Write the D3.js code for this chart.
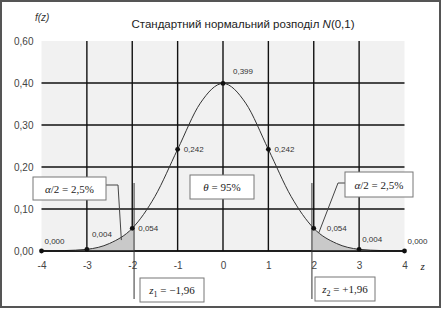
<!DOCTYPE html>
<html>
<head>
<meta charset="utf-8">
<script src="https://cdn.jsdelivr.net/npm/d3@7"></script>
<style>
  body { margin: 0; background: #fff; }
  svg { display: block; font-family: 'Liberation Sans', Arial, sans-serif; }
  .grid line { stroke: #111; stroke-width: 1.4; }
  .tick-label { font-size: 10px; fill: #444; }
  .pt-label { font-size: 8px; fill: #333; }
  .note { font-family: 'Liberation Serif', 'Times New Roman', serif; font-size: 11px; fill: #222; }
  .box { fill: #fff; stroke: #777; stroke-width: 1; }
</style>
</head>
<body>
<div id="chart"></div>
<script>
// Values
var zTicks = [-4, -3, -2, -1, 0, 1, 2, 3, 4];
var yTicks = [0, 0.1, 0.2, 0.3, 0.4, 0.5];
var yTickLabels = ['0,00', '0,10', '0,20', '0,30', '0,40', '0,60'];

var markZ = [-4, -3, -2, -1, 0, 1, 2, 3, 4];
var markF = [0.000, 0.004, 0.054, 0.242, 0.399, 0.242, 0.054, 0.004, 0.000];
var markLabels = ['0,000', '0,004', '0,054', '0,242', '0,399', '0,242', '0,054', '0,004', '0,000'];

var curveZ = [-4, -3.5, -3, -2.5, -2, -1.5, -1, -0.5, 0, 0.5, 1, 1.5, 2, 2.5, 3, 3.5, 4];
var curveF = [0.000, 0.001, 0.004, 0.018, 0.054, 0.130, 0.242, 0.352, 0.399,
              0.352, 0.242, 0.130, 0.054, 0.018, 0.004, 0.001, 0.000];

var critZ = [-1.96, 1.96];

var width = 443, height = 311;
var margin = {top: 41, right: 38.5, bottom: 60, left: 41.5};
var plotW = width - margin.left - margin.right;
var plotH = height - margin.top - margin.bottom;

var svg = d3.select('#chart').append('svg')
    .attr('width', width)
    .attr('height', height);

// outer frame
svg.append('rect')
    .attr('x', 1).attr('y', 1)
    .attr('width', 439).attr('height', 306)
    .attr('fill', '#fff')
    .attr('stroke', '#555')
    .attr('stroke-width', 2);

var x = d3.scaleLinear().domain([-4, 4]).range([margin.left, margin.left + plotW]);
var y = d3.scaleLinear().domain([0, 0.5]).range([margin.top + plotH, margin.top]);

// plot background
svg.append('rect')
    .attr('x', x(-4)).attr('y', y(0.5))
    .attr('width', x(4) - x(-4)).attr('height', y(0) - y(0.5))
    .attr('fill', '#f1f1f1');

// grid
var grid = svg.append('g').attr('class', 'grid');
grid.selectAll('line.v')
    .data(zTicks.filter(function(d) { return d > -4 && d < 4; }))
  .enter().append('line')
    .attr('x1', function(d) { return x(d); })
    .attr('x2', function(d) { return x(d); })
    .attr('y1', y(0.5)).attr('y2', y(0));
grid.selectAll('line.h')
    .data(yTicks.filter(function(d) { return d < 0.5; }))
  .enter().append('line')
    .attr('x1', x(-4)).attr('x2', x(4))
    .attr('y1', function(d) { return y(d); })
    .attr('y2', function(d) { return y(d); });

// shaded tails
var pts = curveZ.map(function(z, i) { return {z: z, f: curveF[i]}; });
var area = d3.area()
    .x(function(d) { return x(d.z); })
    .y0(y(0))
    .y1(function(d) { return y(d.f); })
    .curve(d3.curveMonotoneX);

var defs = svg.append('defs');
defs.append('clipPath').attr('id', 'tailL').append('rect')
    .attr('x', x(-4)).attr('y', y(0.5))
    .attr('width', x(critZ[0]) - x(-4)).attr('height', plotH);
defs.append('clipPath').attr('id', 'tailR').append('rect')
    .attr('x', x(critZ[1])).attr('y', y(0.5))
    .attr('width', x(4) - x(critZ[1])).attr('height', plotH);

svg.append('path').attr('d', area(pts))
    .attr('fill', '#c9c9c9').attr('clip-path', 'url(#tailL)');
svg.append('path').attr('d', area(pts))
    .attr('fill', '#c9c9c9').attr('clip-path', 'url(#tailR)');

// curve
var line = d3.line()
    .x(function(d) { return x(d.z); })
    .y(function(d) { return y(d.f); })
    .curve(d3.curveMonotoneX);
svg.append('path')
    .attr('d', line(pts))
    .attr('fill', 'none')
    .attr('stroke', '#333')
    .attr('stroke-width', 1);

// x axis line
svg.append('line')
    .attr('x1', x(-4)).attr('x2', x(4))
    .attr('y1', y(0)).attr('y2', y(0))
    .attr('stroke', '#111').attr('stroke-width', 1.4);

// axes labels
var xAxis = d3.axisBottom(x).tickValues(zTicks).tickSize(0).tickPadding(11)
    .tickFormat(function(d) { return d < 0 ? '-' + Math.abs(d) : d; });
var gx = svg.append('g').attr('transform', 'translate(0,' + y(0) + ')').call(xAxis);
gx.select('.domain').remove();
gx.selectAll('text').attr('class', 'tick-label').attr('font-size', null).attr('font-family', null);

var yAxis = d3.axisLeft(y).tickValues(yTicks).tickSize(0).tickPadding(8)
    .tickFormat(function(d, i) { return yTickLabels[i]; });
var gy = svg.append('g').attr('transform', 'translate(' + x(-4) + ',0)').call(yAxis);
gy.select('.domain').remove();
gy.selectAll('text').attr('class', 'tick-label').attr('font-size', null).attr('font-family', null);

svg.append('text')
    .attr('x', 35).attr('y', 21)
    .attr('font-size', 10).attr('font-style', 'italic').attr('fill', '#333')
    .text('f(z)');

svg.append('text')
    .attr('x', x(4) + 16).attr('y', y(0) + 19)
    .attr('class', 'note').attr('font-size', 12).attr('font-style', 'italic')
    .text('z');

// title
var title = svg.append('text')
    .attr('x', 243).attr('y', 28)
    .attr('text-anchor', 'middle')
    .attr('font-size', 11.5).attr('fill', '#222');
title.append('tspan').text('Стандартний нормальний розподіл ');
title.append('tspan').attr('font-style', 'italic').text('N');
title.append('tspan').text('(0,1)');

// critical lines
svg.selectAll('line.crit')
    .data(critZ)
  .enter().append('line')
    .attr('x1', function(d) { return x(d); })
    .attr('x2', function(d) { return x(d); })
    .attr('y1', 183).attr('y2', 299)
    .attr('stroke', '#333').attr('stroke-width', 1);

// markers
svg.selectAll('circle.mark')
    .data(markZ)
  .enter().append('circle')
    .attr('cx', function(d) { return x(d); })
    .attr('cy', function(d, i) { return y(markF[i]); })
    .attr('r', 2.4)
    .attr('fill', '#111');

function labelOffset(z, f) {
  if (z === 0) return [10, -9];
  if (Math.abs(z) === 3 && z < 0) return [5, -12];
  if (f < 0.01) return [3, -7];
  if (z === 2) return [13, 3];
  return [6, 3];
}
svg.selectAll('text.pt')
    .data(markZ)
  .enter().append('text')
    .attr('class', 'pt-label')
    .attr('x', function(d, i) { return x(d) + labelOffset(d, markF[i])[0]; })
    .attr('y', function(d, i) { return y(markF[i]) + labelOffset(d, markF[i])[1]; })
    .text(function(d, i) { return markLabels[i]; });

// leader lines for tails
svg.append('polyline')
    .attr('points', [[106, 185], [118, 185], [x(-2.24), y(0.026)]].join(' '))
    .attr('fill', 'none').attr('stroke', '#444').attr('stroke-width', 1);
svg.append('polyline')
    .attr('points', [[345, 183], [338, 183], [x(2.11), y(0.043)]].join(' '))
    .attr('fill', 'none').attr('stroke', '#444').attr('stroke-width', 1);

// annotation boxes
function box(bx, by, bw, bh, parts, sans) {
  svg.append('rect').attr('class', 'box')
      .attr('x', bx).attr('y', by).attr('width', bw).attr('height', bh);
  var t = svg.append('text').attr('class', 'note')
      .attr('x', bx + bw / 2).attr('y', by + bh / 2 + 4)
      .attr('text-anchor', 'middle');
  if (sans) t.attr('font-family', "'Liberation Sans', Arial, sans-serif").attr('font-size', 10.5);
  parts.forEach(function(p) {
    var s = t.append('tspan').text(p.t);
    if (p.i) s.attr('font-style', 'italic');
    if (p.sub) s.attr('font-size', 8).attr('dy', 3);
    if (p.up) s.attr('dy', -3);
  });
}

box(33, 177, 73, 23, [{t: 'α', i: true}, {t: '/2 = 2,5%'}]);
box(345, 172, 68, 25, [{t: 'α', i: true}, {t: '/2 = 2,5%'}]);
box(190, 175, 64, 24, [{t: 'θ', i: true}, {t: ' = 95%'}], true);
box(140, 278, 64, 24, [{t: 'z', i: true}, {t: '1', sub: true}, {t: ' = −1,96', up: true}]);
box(315, 277, 60, 24, [{t: 'z', i: true}, {t: '2', sub: true}, {t: ' = +1,96', up: true}]);
</script>
</body>
</html>
